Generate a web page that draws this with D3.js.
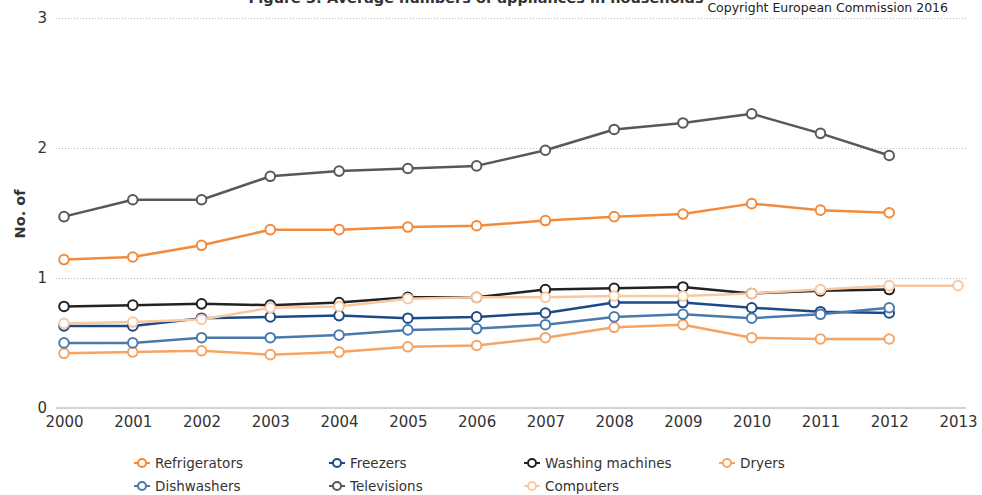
<!DOCTYPE html>
<html>
<head>
<meta charset="utf-8">
<script src="https://cdn.jsdelivr.net/npm/d3@7"></script>
<style>
  html, body { margin: 0; padding: 0; background: #fff; }
  svg { display: block; font-family: "DejaVu Sans", Verdana, sans-serif; }
</style>
</head>
<body>
<svg id="chart" width="982" height="495"></svg>
<script>
const years = [2000, 2001, 2002, 2003, 2004, 2005, 2006, 2007, 2008, 2009, 2010, 2011, 2012, 2013];
const yTicks = [0, 1, 2, 3];

const refrigerators = [1.14, 1.16, 1.25, 1.37, 1.37, 1.39, 1.40, 1.44, 1.47, 1.49, 1.57, 1.52, 1.50];
const freezers      = [0.63, 0.63, 0.69, 0.70, 0.71, 0.69, 0.70, 0.73, 0.81, 0.81, 0.77, 0.74, 0.73];
const washing       = [0.78, 0.79, 0.80, 0.79, 0.81, 0.85, 0.85, 0.91, 0.92, 0.93, 0.88, 0.90, 0.91];
const dryers        = [0.42, 0.43, 0.44, 0.41, 0.43, 0.47, 0.48, 0.54, 0.62, 0.64, 0.54, 0.53, 0.53];
const dishwashers   = [0.50, 0.50, 0.54, 0.54, 0.56, 0.60, 0.61, 0.64, 0.70, 0.72, 0.69, 0.72, 0.77];
const televisions   = [1.47, 1.60, 1.60, 1.78, 1.82, 1.84, 1.86, 1.98, 2.14, 2.19, 2.26, 2.11, 1.94];
const computers     = [0.65, 0.66, 0.68, 0.77, 0.78, 0.84, 0.85, 0.85, 0.86, 0.86, 0.88, 0.91, 0.94, 0.94];

const seriesNames  = ["Refrigerators", "Freezers", "Washing machines", "Dryers", "Dishwashers", "Televisions", "Computers"];
const seriesValues = [refrigerators, freezers, washing, dryers, dishwashers, televisions, computers];
const seriesColors = ["#f28a3c", "#1c4a86", "#222222", "#f5a463", "#4a79ae", "#585858", "#f9c8a0"];

const titleText = "Figure 3: Average numbers of appliances in households";
const creditText = "Copyright European Commission 2016";
const yAxisTitle = "No. of";

const svg = d3.select("#chart");
const plotLeft = 56, plotRight = 966;

const x = d3.scaleLinear().domain([2000, 2013]).range([64, 958]);
const y = d3.scaleLinear().domain([0, 3]).range([408, 17.5]);

// title (clipped at the top edge, as in the reference) and credit
svg.append("text").attr("x", 476).attr("y", 3)
  .attr("text-anchor", "middle").attr("font-size", 14.5).attr("font-weight", "bold")
  .attr("fill", "#333").text(titleText);
svg.append("text").attr("x", 948).attr("y", 12)
  .attr("text-anchor", "end").attr("font-size", 12.5)
  .attr("fill", "#222").text(creditText);

// gridlines
svg.append("g").selectAll("line").data(yTicks.filter(d => d > 0)).join("line")
  .attr("x1", plotLeft).attr("x2", plotRight)
  .attr("y1", d => Math.round(y(d)) + 0.5).attr("y2", d => Math.round(y(d)) + 0.5)
  .attr("stroke", "#b8b8b8").attr("stroke-width", 1).attr("stroke-dasharray", "1,2");

// baseline
svg.append("line").attr("x1", plotLeft).attr("x2", plotRight)
  .attr("y1", y(0)).attr("y2", y(0)).attr("stroke", "#c4c4c4").attr("stroke-width", 1.5);

// y axis
const yAxis = d3.axisLeft(y).tickValues(yTicks).tickSize(0).tickPadding(0).tickFormat(d3.format("d"));
const yg = svg.append("g").attr("transform", "translate(47,0)").call(yAxis);
yg.select(".domain").remove();
yg.selectAll("text").attr("font-size", 15).attr("fill", "#333").attr("font-family", "DejaVu Sans, sans-serif");

// x axis
const xAxis = d3.axisBottom(x).tickValues(years).tickSize(0).tickPadding(0).tickFormat(d3.format("d"));
const xg = svg.append("g").attr("transform", "translate(0,416)").call(xAxis);
xg.select(".domain").remove();
xg.selectAll("text").attr("font-size", 15).attr("fill", "#333").attr("font-family", "DejaVu Sans, sans-serif");

// y axis title
svg.append("text").attr("transform", "translate(25,214) rotate(-90)")
  .attr("text-anchor", "middle").attr("font-size", 14.5).attr("font-weight", "bold")
  .attr("fill", "#333").text(yAxisTitle);

// series
const line = d3.line().x((d, i) => x(years[i])).y(d => y(d));
seriesValues.forEach((vals, si) => {
  const g = svg.append("g");
  g.append("path").datum(vals).attr("d", line)
    .attr("fill", "none").attr("stroke", seriesColors[si]).attr("stroke-width", 2.5)
    .attr("stroke-linejoin", "round");
  g.selectAll("circle").data(vals).join("circle")
    .attr("cx", (d, i) => x(years[i])).attr("cy", d => y(d)).attr("r", 4.8)
    .attr("fill", "#fff").attr("stroke", seriesColors[si]).attr("stroke-width", 2);
});

// legend
const legendCols = [142, 337, 532, 727];
const legendRows = [463, 486];
seriesNames.forEach((name, i) => {
  const cx = legendCols[i % 4], cy = legendRows[Math.floor(i / 4)];
  const g = svg.append("g");
  g.append("line").attr("x1", cx - 8).attr("x2", cx + 8).attr("y1", cy).attr("y2", cy)
    .attr("stroke", seriesColors[i]).attr("stroke-width", 2);
  g.append("circle").attr("cx", cx).attr("cy", cy).attr("r", 4)
    .attr("fill", "#fff").attr("stroke", seriesColors[i]).attr("stroke-width", 2);
  g.append("text").attr("x", cx + 13).attr("y", cy + 5)
    .attr("font-size", 13.5).attr("fill", "#333").text(name);
});
</script>
</body>
</html>
